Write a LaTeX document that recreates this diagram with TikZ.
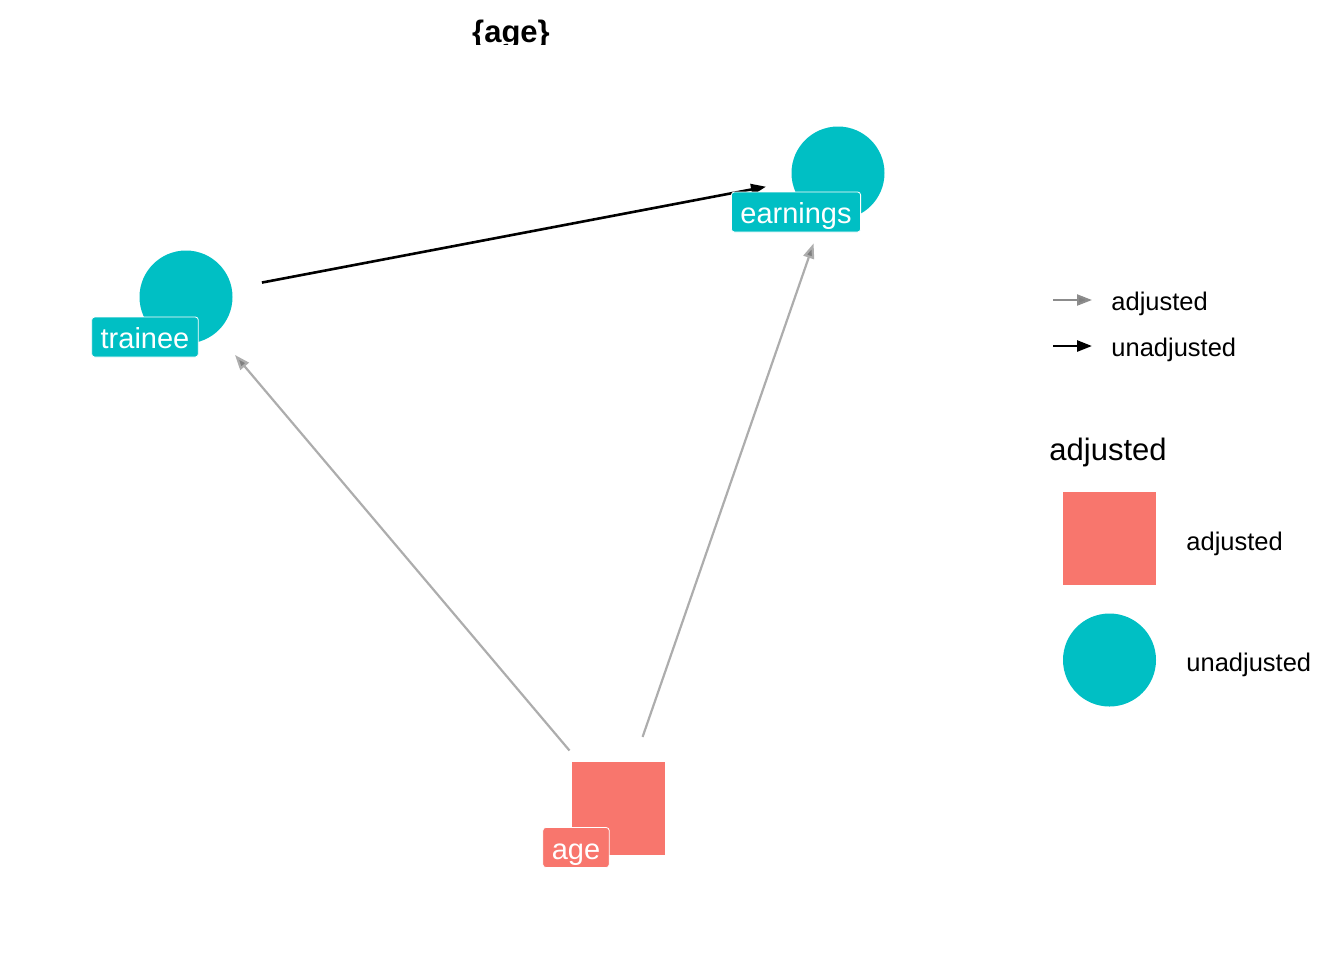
\documentclass[tikz,border=0pt]{standalone}
\usepackage{fontspec}
\setmainfont{Liberation Sans}
\usetikzlibrary{arrows.meta}
\definecolor{dagteal}{HTML}{00BFC4}
\definecolor{dagsalmon}{HTML}{F8766D}

\begin{document}
\begin{tikzpicture}[x=0.5pt,y=-0.5pt,every text node part/.style={align=left}]
		\tikzstyle{vertex}=[circle,fill=dagteal,minimum size=46.5pt,
                  inner sep=0pt, outer sep=0pt]
		\tikzstyle{vbox}=[rectangle,fill=dagsalmon,minimum size=46.5pt,
                  inner sep=0pt, outer sep=0pt]
		\tikzstyle{lbl}=[rectangle,rounded corners=1.5pt,draw=white,line width=0.4pt,
                  text=white,font=\fontsize{14.5}{17}\selectfont,anchor=base,
                  inner xsep=4.5pt,inner ysep=0pt,text height=15.75pt,text depth=4.25pt]
		\tikzstyle{adj}=[draw=black!32,line width=1.1pt,
                  -{Triangle[length=7.5pt,width=5.5pt,fill=black!50]}]
		\tikzstyle{unadj}=[draw=black,line width=1.3pt,
                  -{Triangle[length=7.5pt,width=5.5pt,fill=black]}]
		\tikzstyle{legtext}=[font=\fontsize{12.75}{15}\selectfont,anchor=base west,inner sep=0pt]

    	\useasboundingbox (0,0) rectangle (1344,960);

        % title
        \begin{scope}
            \clip (0,0) rectangle (1344,44);
            \node[font=\bfseries\fontsize{15.5}{18}\selectfont,anchor=base] (title) at (511,42.5) {\{age\}};
        \end{scope}

        % nodes
    	\foreach \name/\x/\y in {trainee/186/297, earnings/838/173}
       		\node[vertex] (\name) at (\x,\y) {};
        \node[vbox] (age) at (618,808) {};

        % edges
        \draw [unadj,shorten <=15.4pt,shorten >=13.4pt] (trainee) -- (earnings);
        \draw [adj,shorten <=7.2pt,shorten >=14.7pt] (age) -- (trainee);
        \draw [adj,shorten <=13pt,shorten >=14pt] (age) -- (earnings);

        % labels
        \node[lbl,fill=dagteal] (trainee-lbl) at (145,348.5) {trainee};
        \node[lbl,fill=dagteal] (earnings-lbl) at (796,223.5) {earnings};
        \node[lbl,fill=dagsalmon] (age-lbl) at (576,859) {age};

        % legend
        \coordinate (adj-a) at (1053,300);
        \coordinate (adj-b) at (1092,300);
        \coordinate (unadj-a) at (1053,346);
        \coordinate (unadj-b) at (1092,346);
        \draw [adj,draw=black!45] (adj-a) -- (adj-b);
        \draw [unadj] (unadj-a) -- (unadj-b);
        \node[legtext] (adj-txt) at (1111,310) {adjusted};
        \node[legtext] (unadj-txt) at (1111,356) {unadjusted};

        \node[legtext,font=\fontsize{15.5}{18}\selectfont] (key-title) at (1049,460) {adjusted};
        \node[vbox] (key-adj) at (1109.5,538.5) {};
        \node[vertex] (key-unadj) at (1109.5,660) {};
        \node[legtext] (key-adj-txt) at (1186,550) {adjusted};
        \node[legtext] (key-unadj-txt) at (1186,671) {unadjusted};

	\end{tikzpicture}
\end{document}
